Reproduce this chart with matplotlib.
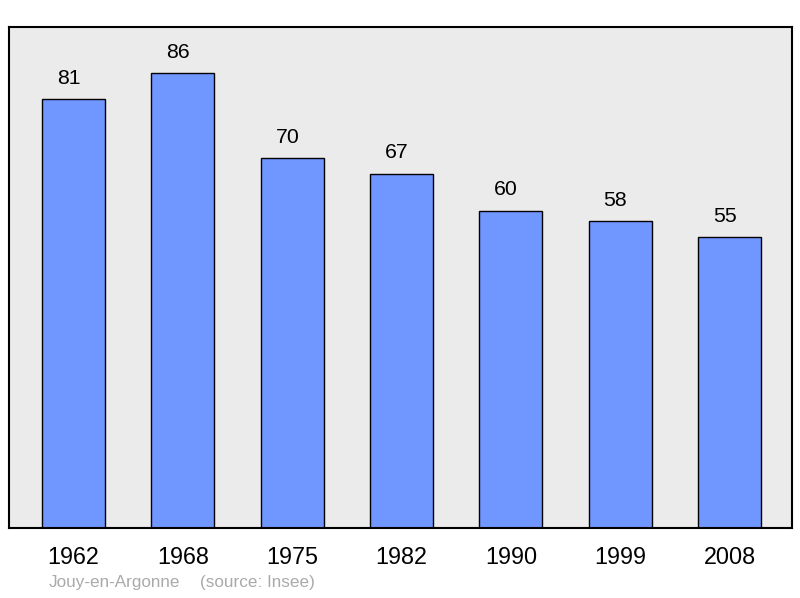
import matplotlib
matplotlib.use('Agg')
import matplotlib.pyplot as plt

# data
years = ['1962', '1968', '1975', '1982', '1990', '1999', '2008']
population = [81, 86, 70, 67, 60, 58, 55]
town = 'Jouy-en-Argonne'
source = '(source: Insee)'

plt.rcParams['font.family'] = ['Liberation Sans', 'DejaVu Sans']

fig = plt.figure(figsize=(8, 5.98), dpi=100)
ax = fig.add_axes([9 / 800, 1 - 528 / 598, 783 / 800, 501 / 598])
ax.set_facecolor('#ebebeb')

x = list(range(len(years)))
bars = ax.bar(x, population, width=0.576, color='#7096ff', edgecolor='black', linewidth=1.0)

# value labels sit a little left of the bar centre, as in the original
for xi, v in zip(x, population):
    ax.annotate(str(v), (xi, v), xytext=(-3.5, 8), textcoords='offset points',
                ha='center', va='bottom', fontsize=15.3)

ax.set_xlim(-0.59, 6.57)
ax.set_ylim(0, 94.7)
ax.set_xticks(x)
ax.set_xticklabels(years, fontsize=16.8)
ax.tick_params(axis='x', length=0, pad=13)
ax.set_yticks([])
for s in ax.spines.values():
    s.set_linewidth(1.5)

fig.text(49 / 800, 1 - 583 / 598, town, color='#aaaaaa', fontsize=12.3, va='center', ha='left')
fig.text(200 / 800, 1 - 583 / 598, source, color='#aaaaaa', fontsize=12.3, va='center', ha='left')

fig.savefig('out.png', dpi=100)
